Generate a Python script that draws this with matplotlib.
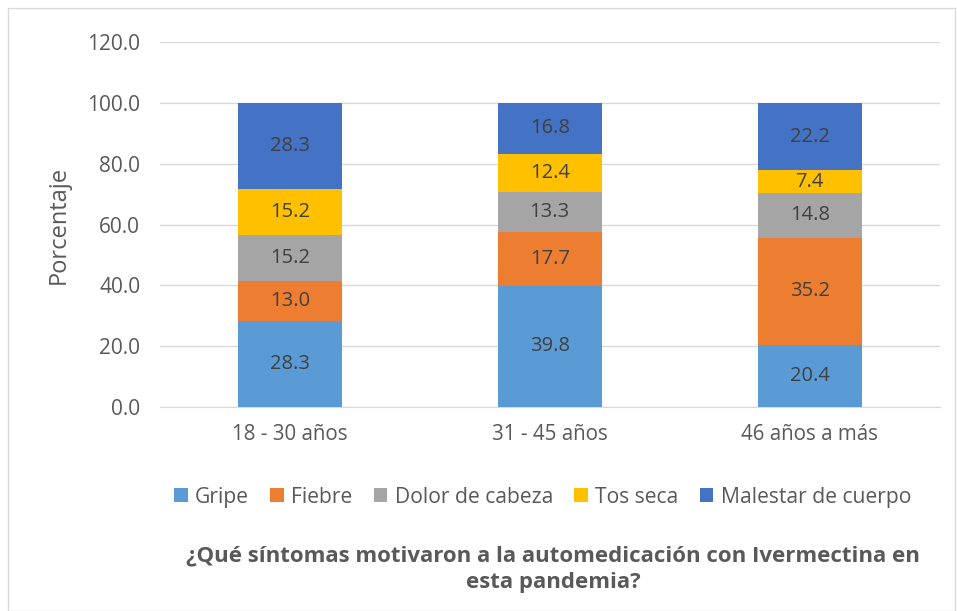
import matplotlib.pyplot as plt
import numpy as np

categories = ["18 - 30 años", "31 - 45 años", "46 años a más"]
series_names = ["Gripe", "Fiebre", "Dolor de cabeza", "Tos seca", "Malestar de cuerpo"]
gripe = [28.3, 39.8, 20.4]
fiebre = [13.0, 17.7, 35.2]
dolor = [15.2, 13.3, 14.8]
tos = [15.2, 12.4, 7.4]
malestar = [28.3, 16.8, 22.2]
colors = ["#5B9BD5", "#ED7D31", "#A5A5A5", "#FFC000", "#4472C4"]
yticks = [0, 20, 40, 60, 80, 100, 120]

plt.rcParams['font.family'] = ['Open Sans', 'DejaVu Sans']

fig = plt.figure(figsize=(9.57, 6.11), dpi=100)
ax = fig.add_axes([0.167, 0.334, 0.815, 0.597])
fig.patches.append(plt.Rectangle((0.008, 0.0), 0.99, 0.987, transform=fig.transFigure,
                                 fill=False, edgecolor="#D9D9D9", linewidth=1))

x = np.arange(len(categories))
bottom = np.zeros(len(categories))
for name, vals, c in zip(series_names, [gripe, fiebre, dolor, tos, malestar], colors):
    ax.bar(x, vals, 0.4, bottom=bottom, color=c, label=name, zorder=3)
    for xi, b, v in zip(x, bottom, vals):
        ax.text(xi, b + v / 2, f"{v:.1f}", ha="center", va="center",
                fontsize=14.5, color="#404040", zorder=4)
    bottom += np.array(vals)

ax.set_xlim(-0.5, 2.5)
ax.set_ylim(0, 120)
ax.set_yticks(yticks)
ax.set_yticklabels([f"{t:.1f}" for t in yticks])
ax.set_xticks(x)
ax.set_xticklabels(categories)
ax.tick_params(axis="y", length=0, labelsize=15, colors="#595959", pad=14)
ax.tick_params(axis="x", length=0, labelsize=14.8, colors="#595959", pad=12)
ax.grid(axis="y", color="#D9D9D9", linewidth=1, zorder=0)
for s in ["top", "right", "left"]:
    ax.spines[s].set_visible(False)
ax.spines["bottom"].set_color("#D9D9D9")
ax.set_ylabel("Porcentaje", fontsize=17, color="#595959", labelpad=12)

fig.legend(loc="center", bbox_to_anchor=(0.567, 0.186), ncol=5, frameon=False,
           fontsize=15.2, handlelength=0.65, handleheight=0.65, handletextpad=0.35,
           columnspacing=1.0, labelcolor="#595959")

fig.text(0.578, 0.068, "¿Qué síntomas motivaron a la automedicación con Ivermectina en\nesta pandemia?",
         ha="center", va="center", fontsize=16, fontweight="bold", color="#595959",
         linespacing=1.35)

fig.savefig("out.png", dpi=100)
